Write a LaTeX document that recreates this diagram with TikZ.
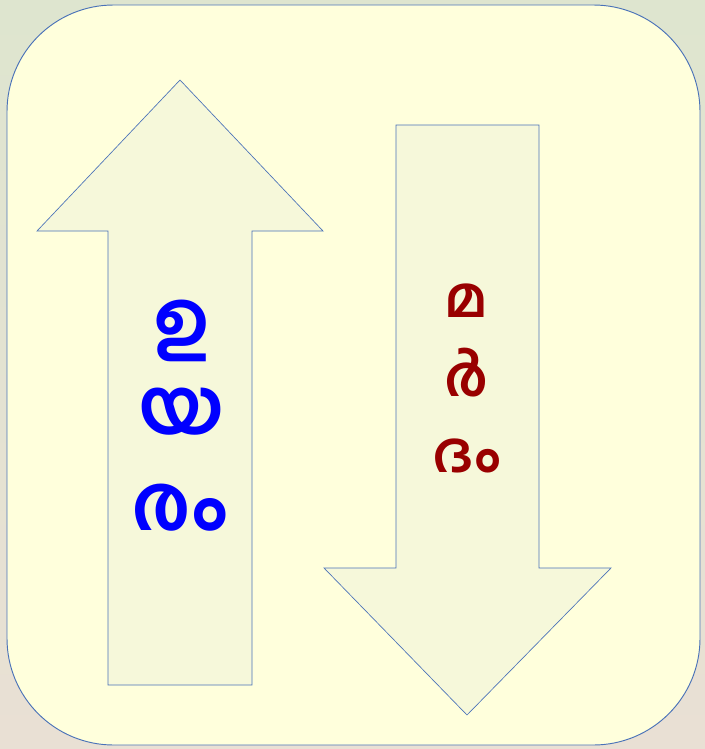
\documentclass[tikz,border=0pt]{standalone}
\usepackage{fontspec}
\newfontfamily\malfont[Script=Malayalam]{Hind Kochi}
\definecolor{bgtop}{HTML}{DEE5CF}
\definecolor{bgbottom}{HTML}{E9E0D4}
\definecolor{panelfill}{HTML}{FFFFDC}
\definecolor{arrowfill}{HTML}{F6F8DA}
\definecolor{edgeblue}{HTML}{4A72B8}
\definecolor{upblue}{HTML}{0000FF}
\definecolor{downred}{HTML}{990000}

\begin{document}
\begin{tikzpicture}[
        x = 0.75pt, y = -0.75pt,
        panel/.style = {
            draw            = edgeblue,
            fill            = panelfill,
            line width      = 0.7pt,
            rounded corners = 80pt
        },
        bigarrow/.style = {
            draw       = edgeblue,
            fill       = arrowfill,
            line width = 0.5pt
        },
        uplabel/.style = {
            font       = \malfont\bfseries\fontsize{58}{62}\selectfont,
            text       = upblue,
            inner sep  = 0pt
        },
        downlabel/.style = {
            font       = \malfont\bfseries\fontsize{42}{46}\selectfont,
            text       = downred,
            inner sep  = 0pt
        }
    ]

    % background
    \shade[top color=bgtop, bottom color=bgbottom] (0,0) rectangle (705,749);
    \useasboundingbox (0,0) rectangle (705,749);

    \draw[panel] (7,5) rectangle (700,745);

    % up arrow
    \draw[bigarrow]
        (180,80) -- (323,231) -- (252,231) -- (252,685)
        -- (108,685) -- (108,231) -- (37,231) -- cycle;

    % down arrow
    \draw[bigarrow]
        (396,125) -- (539,125) -- (539,568) -- (611,568)
        -- (467,715) -- (324,568) -- (396,568) -- cycle;

    \node[uplabel] (up1) at (182,331) {ഉ};
    \node[uplabel] (up2) at (182,412) {യ};
    \node[uplabel] (up3) at (180,508) {രം};

    \node[downlabel] (down1) at (466,301) {മ};
    \node[downlabel] (down2) at (466,373) {ർ};
    \node[downlabel] (down3) at (467,456) {ദം};
\end{tikzpicture}
\end{document}
